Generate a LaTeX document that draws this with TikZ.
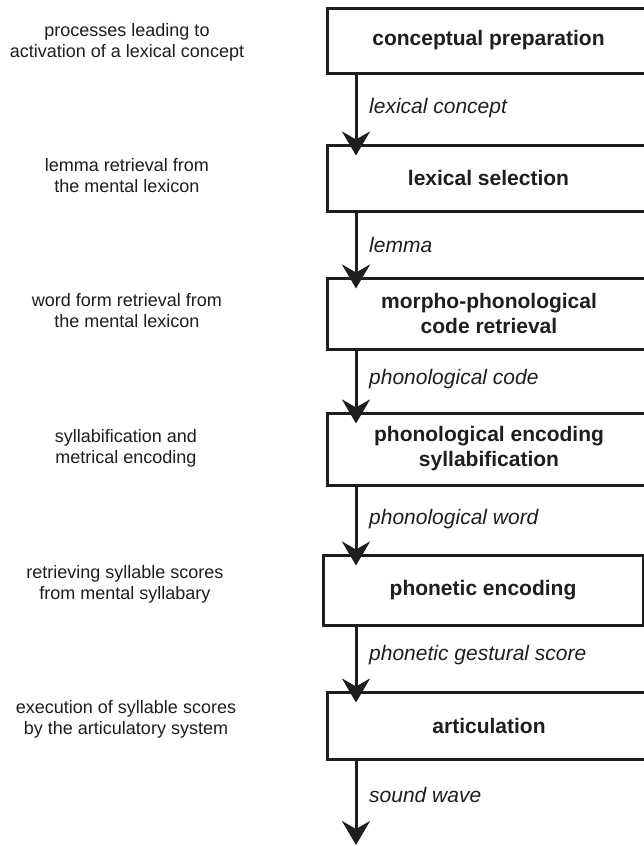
\documentclass[tikz,border=0pt]{standalone}
\usepackage{fontspec}
\setmainfont{Liberation Sans}
\usetikzlibrary{arrows.meta}
\definecolor{ink}{HTML}{1E1E1E}
\tikzset{
  box/.style={draw=ink, line width=3pt, rectangle, minimum width=323pt, inner sep=0pt,
    font=\fontsize{21pt}{25pt}\selectfont\bfseries, text=ink, align=center},
  side/.style={font=\fontsize{18pt}{21pt}\selectfont, text=ink, align=center, inner sep=0pt},
  lbl/.style={font=\fontsize{21pt}{25pt}\selectfont\itshape, text=ink, anchor=west, inner sep=0pt},
  arr/.style={draw=ink, line width=3pt, -{Stealth[length=24pt, width=28pt, inset=8pt]}}
}
\begin{document}
\begin{tikzpicture}[x=1pt, y=-1pt]
\clip (0,0) rectangle (644,846);
\fill[white] (0,0) rectangle (644,846);
% boxes
\node[box, minimum height=65pt] (b1) at (488.5,40.5) {conceptual preparation};
\node[box, minimum height=66pt] (b2) at (488.5,178) {lexical selection};
\node[box, minimum height=71pt] (b3) at (489,313.5) {morpho-phonological\\code retrieval};
\node[box, minimum height=72pt] (b4) at (489,449) {phonological encoding\\syllabification};
\node[box, minimum height=70pt, minimum width=320pt] (b5) at (483,590) {phonetic encoding};
\node[box, minimum height=67pt] (b6) at (489,725.5) {articulation};
% arrow axis and end
\coordinate (ax) at (356,0);
\coordinate (end) at (356,845);
\draw[arr] (b1.south -| ax) -- ([yshift=-12pt]b2.north -| ax);
\draw[arr] (b2.south -| ax) -- ([yshift=-12pt]b3.north -| ax);
\draw[arr] (b3.south -| ax) -- ([yshift=-12pt]b4.north -| ax);
\draw[arr] (b4.south -| ax) -- ([yshift=-12pt]b5.north -| ax);
\draw[arr] (b5.south -| ax) -- ([yshift=-12pt]b6.north -| ax);
\draw[arr] (b6.south -| ax) -- (end);
% arrow labels
\node[lbl] (l1) at (369,108) {lexical concept};
\node[lbl] (l2) at (369,245) {lemma};
\node[lbl] (l3) at (369,379) {phonological code};
\node[lbl] (l4) at (369,519) {phonological word};
\node[lbl] (l5) at (369,655) {phonetic gestural score};
\node[lbl] (l6) at (369,795) {sound wave};
% side descriptions
\node[side] (s1) at (127,42) {processes leading to\\activation of a lexical concept};
\node[side] (s2) at (127,176) {lemma retrieval from\\the mental lexicon};
\node[side] (s3) at (127,311) {word form retrieval from\\the mental lexicon};
\node[side] (s4) at (126,448) {syllabification and\\metrical encoding};
\node[side] (s5) at (125,584) {retrieving syllable scores\\from mental syllabary};
\node[side] (s6) at (126,719) {execution of syllable scores\\by the articulatory system};
\end{tikzpicture}
\end{document}
